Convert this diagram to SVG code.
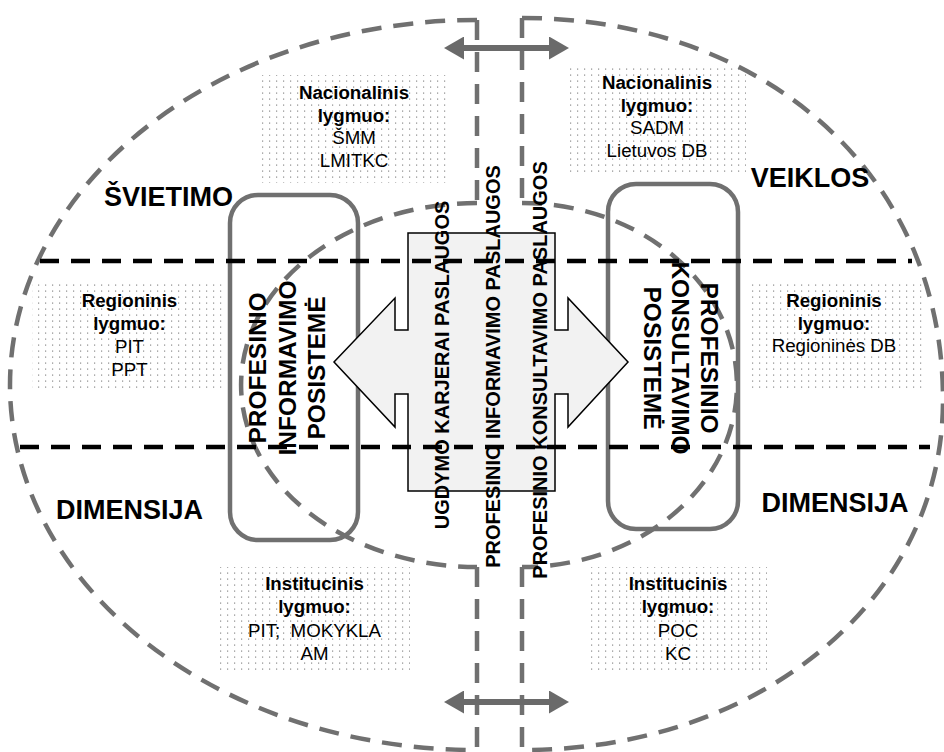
<svg xmlns="http://www.w3.org/2000/svg" width="944" height="752" viewBox="0 0 944 752">
<style>
.t{font-family:"Liberation Sans",Arial,sans-serif;fill:#000;}
.sm{font-size:18.7px;text-anchor:middle;}
.b{font-weight:bold;}
.big{font-size:27px;font-weight:bold;text-anchor:middle;}
.sys{font-size:24.5px;font-weight:bold;text-anchor:middle;}
.svc{font-size:20px;font-weight:bold;text-anchor:middle;}
.gd{fill:none;stroke:#707070;stroke-width:4.5;stroke-dasharray:20 12;}
.bd{fill:none;stroke:#000;stroke-width:4.5;stroke-dasharray:19 12;}
.rr{fill:none;stroke:#707070;stroke-width:4.5;}
.dot{fill:url(#dots);}
.arr{fill:none;stroke:#6a6a6a;stroke-width:6;marker-start:url(#ah);marker-end:url(#ah);}
</style>
<defs>
<pattern id="dots" width="7" height="6" patternUnits="userSpaceOnUse">
<rect x="3" y="2.5" width="1.2" height="1.2" fill="#8a8a8a"/>
</pattern>
<marker id="ah" viewBox="0 0 20 23" refX="2" refY="11.5" markerWidth="20" markerHeight="23" markerUnits="userSpaceOnUse" orient="auto-start-reverse">
<path d="M0,0 L20,11.5 L0,23 Z" fill="#6a6a6a"/>
</marker>
</defs>
<rect width="944" height="752" fill="#fff"/>

<g id="node-nac-left">
<rect class="dot" x="258" y="75" width="190" height="108"/>
<text class="t sm"><tspan class="b" x="354" y="99">Nacionalinis</tspan><tspan class="b" x="354" y="121.5">lygmuo:</tspan><tspan x="354" y="144">ŠMM</tspan><tspan x="354" y="167">LMITKC</tspan></text>
</g>
<g id="node-nac-right">
<rect class="dot" x="568" y="65" width="178" height="108"/>
<text class="t sm"><tspan class="b" x="657" y="89">Nacionalinis</tspan><tspan class="b" x="657" y="111.5">lygmuo:</tspan><tspan x="657" y="134">SADM</tspan><tspan x="657" y="157">Lietuvos DB</tspan></text>
</g>
<g id="node-reg-left">
<rect class="dot" x="32" y="283" width="195" height="107"/>
<text class="t sm"><tspan class="b" x="129.5" y="307">Regioninis</tspan><tspan class="b" x="129.5" y="329.5">lygmuo:</tspan><tspan x="129.5" y="353">PIT</tspan><tspan x="129.5" y="376">PPT</tspan></text>
</g>
<g id="node-reg-right">
<rect class="dot" x="750" y="283" width="172" height="107"/>
<text class="t sm"><tspan class="b" x="834" y="307">Regioninis</tspan><tspan class="b" x="834" y="329.5">lygmuo:</tspan><tspan x="834" y="352">Regioninės DB</tspan></text>
</g>
<g id="node-inst-left">
<rect class="dot" x="220" y="567" width="190" height="107"/>
<text class="t sm" xml:space="preserve"><tspan class="b" x="314.5" y="590">Institucinis</tspan><tspan class="b" x="314.5" y="613">lygmuo:</tspan><tspan x="314.5" y="636.5">PIT;  MOKYKLA</tspan><tspan x="314.5" y="660">AM</tspan></text>
</g>
<g id="node-inst-right">
<rect class="dot" x="589" y="567" width="178" height="107"/>
<text class="t sm"><tspan class="b" x="678" y="590">Institucinis</tspan><tspan class="b" x="678" y="613">lygmuo:</tspan><tspan x="678" y="636.5">POC</tspan><tspan x="678" y="660">KC</tspan></text>
</g>

<g id="dimension-outlines">
<path class="gd" d="M477,20 A467,365 0 0 0 477,750"/>
<path class="gd" d="M522,18 C760,18 943,170 943,400 C943,600 760,750 522,750"/>
<path class="gd" d="M477,20 L477,203 M477,567 L477,752"/>
<path class="gd" d="M522,18 L522,203 M522,567 L522,752"/>
<path class="gd" d="M477,203 A236,182 0 0 0 477,567"/>
<path class="gd" d="M522,203 A215,182 0 0 1 522,567"/>
</g>

<g id="node-info-subsystem">
<rect class="rr" x="230" y="195" width="128" height="345" rx="28" ry="28"/>
</g>
<g id="node-consult-subsystem">
<rect class="rr" x="608" y="184" width="130" height="345" rx="28" ry="28"/>
</g>

<g id="node-services">
<path d="M408,233 L555,233 L555,330 L568,330 L568,298 L628,362 L568,427 L568,394 L555,394 L555,491 L408,491 L408,394 L395,394 L395,427 L334,362 L395,298 L395,330 L408,330 Z" fill="#f2f2f2" stroke="#000" stroke-width="1.5"/>
</g>

<g id="levels">
<line class="bd" x1="40" y1="261" x2="912" y2="261"/>
<line class="bd" x1="20" y1="447" x2="930" y2="447"/>
</g>

<g id="connectors">
<line class="arr" x1="462" y1="48" x2="551" y2="48"/>
<line class="arr" x1="462" y1="702" x2="551" y2="702"/>
</g>

<g id="labels">
<text class="t big" x="168.5" y="206">ŠVIETIMO</text>
<text class="t big" x="810" y="187">VEIKLOS</text>
<text class="t big" x="129.5" y="519">DIMENSIJA</text>
<text class="t big" x="835" y="512">DIMENSIJA</text>
</g>

<g id="subsystem-texts">
<text class="t sys" transform="translate(288,368) rotate(-90)"><tspan x="0" y="-22">PROFESINIO</tspan><tspan x="0" y="7.5">INFORMAVIMO</tspan><tspan x="0" y="37">POSISTEMĖ</tspan></text>
<text class="t sys" transform="translate(681,358) rotate(90)"><tspan x="0" y="-19.5">PROFESINIO</tspan><tspan x="0" y="9">KONSULTAVIMO</tspan><tspan x="0" y="37.5">POSISTEMĖ</tspan></text>
</g>

<g id="service-texts">
<text class="t svc" transform="translate(449,365) rotate(-90)">UGDYMO KARJERAI PASLAUGOS</text>
<text class="t svc" transform="translate(500,366.5) rotate(-90)">PROFESINIO INFORMAVIMO PASLAUGOS</text>
<text class="t svc" transform="translate(547,370) rotate(-90)">PROFESINIO KONSULTAVIMO PASLAUGOS</text>
</g>
</svg>
